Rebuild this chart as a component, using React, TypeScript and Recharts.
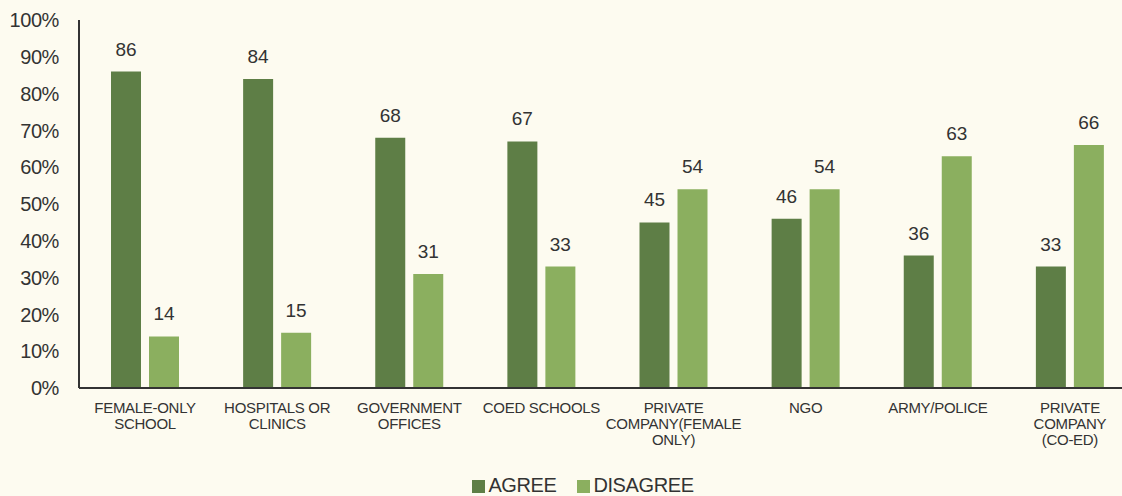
import { BarChart, Bar, XAxis, YAxis, Legend, LabelList } from "recharts";

const categories = [
  "FEMALE-ONLY\nSCHOOL",
  "HOSPITALS OR\nCLINICS",
  "GOVERNMENT\nOFFICES",
  "COED SCHOOLS",
  "PRIVATE\nCOMPANY(FEMALE\nONLY)",
  "NGO",
  "ARMY/POLICE",
  "PRIVATE\nCOMPANY\n(CO-ED)",
];
const agree = [86, 84, 68, 67, 45, 46, 36, 33];
const disagree = [14, 15, 31, 33, 54, 54, 63, 66];
const yTicks = [0, 10, 20, 30, 40, 50, 60, 70, 80, 90, 100];

const data = categories.map((name, i) => ({
  name,
  agree: agree[i],
  disagree: disagree[i],
}));

const DARK = "#5E7E46";
const LIGHT = "#8BAF5F";
const TEXT = "#333333";
const FONT = "'Liberation Sans', Arial, sans-serif";

function CategoryTick(props: any) {
  const { x, y, payload } = props;
  const lines = String(payload.value).split("\n");
  return (
    <text
      x={x}
      y={y + 17}
      textAnchor="middle"
      fill={TEXT}
      fontSize={15}
      fontFamily={FONT}
      letterSpacing={-0.3}
    >
      {lines.map((line, i) => (
        <tspan key={i} x={x} dy={i === 0 ? 0 : 16}>
          {line}
        </tspan>
      ))}
    </text>
  );
}

function LegendContent() {
  const items = [
    { label: "AGREE", color: DARK },
    { label: "DISAGREE", color: LIGHT },
  ];
  return (
    <div
      style={{
        display: "flex",
        justifyContent: "center",
        gap: 21,
        paddingTop: 6,
        paddingLeft: 30,
        fontFamily: FONT,
        fontSize: 20,
        lineHeight: "23px",
        color: TEXT,
        letterSpacing: -0.4,
      }}
    >
      {items.map((it) => (
        <div key={it.label} style={{ display: "flex", alignItems: "center" }}>
          <span
            style={{
              display: "inline-block",
              width: 13,
              height: 13,
              background: it.color,
              marginRight: 3,
              marginTop: 2,
            }}
          />
          {it.label}
        </div>
      ))}
    </div>
  );
}

export default function App() {
  return (
    <div
      style={{
        position: "absolute",
        left: 0,
        top: 0,
        width: 1122,
        height: 496,
        background: "#FDFBF0",
        overflow: "hidden",
      }}
    >
      <BarChart
        width={1136}
        height={496}
        data={data}
        margin={{ top: 20, right: 0, bottom: 0, left: 0 }}
        barSize={30}
        barGap={8}
      >
        <XAxis
          dataKey="name"
          interval={0}
          tickLine={false}
          axisLine={{ stroke: "#333", strokeWidth: 2 }}
          tick={<CategoryTick />}
          height={80}
        />
        <YAxis
          width={79}
          domain={[0, 100]}
          ticks={yTicks}
          tickFormatter={(v) => `${v}%`}
          tickLine={false}
          tickMargin={14}
          axisLine={{ stroke: "#333", strokeWidth: 2 }}
          tick={{ fill: TEXT, fontSize: 20, fontFamily: FONT, letterSpacing: -0.4 }}
        />
        <Legend verticalAlign="bottom" height={28} content={<LegendContent />} />
        <Bar dataKey="agree" name="AGREE" fill={DARK} isAnimationActive={false}>
          <LabelList
            dataKey="agree"
            position="top"
            offset={16}
            fill={TEXT}
            fontSize={19}
            fontFamily={FONT}
          />
        </Bar>
        <Bar dataKey="disagree" name="DISAGREE" fill={LIGHT} isAnimationActive={false}>
          <LabelList
            dataKey="disagree"
            position="top"
            offset={16}
            fill={TEXT}
            fontSize={19}
            fontFamily={FONT}
          />
        </Bar>
      </BarChart>
    </div>
  );
}
